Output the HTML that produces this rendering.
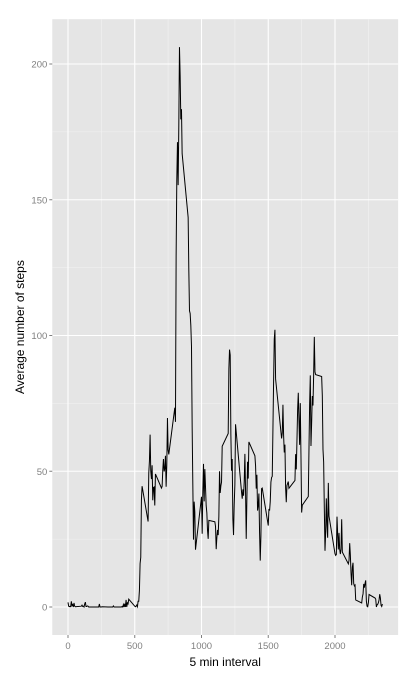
<!DOCTYPE html>
<html><head><meta charset="utf-8"><style>
body{margin:0;background:#fff;}
svg{display:block;font-family:"Liberation Sans",sans-serif;}
</style></head><body>
<svg id="chart" width="413" height="680"></svg>
<script>
const hourValues = [
[1.7,0.3,0.1,0.2,0.1,2.1,0.5,0.9,0,1.5,0.3,0.1],
[0.3,0.7,0.2,0.3,0,1.1,1.8,0.2,0.2,0.4,0.3,0],
[0,0,0,0,0,0,0,1.1,0,0,0,0.1],
[0,0,0,0,0,0,0,0,0.4,0,0,0],
[0,0.2,0,0.9,0,1.2,0,2.6,0,1.5,1.2,2.9],
[0.3,0.1,0.3,0.7,0.1,2.1,2.1,6.1,16,18.3,39.5,44.5],
[31.5,49.3,53.8,63.5,50,47.1,52.2,39.3,44,44.2,37.4,49],
[43.8,44.4,50.5,54.5,49.9,51,55.7,44.3,52.3,69.6,57.9,56.2],
[73.4,68.2,129.4,157.5,171.2,155.4,177.3,206.2,195.9,179.6,183.4,167],
[143.5,124,109.1,108.1,103.7,96,66.2,45.2,24.8,38.8,35,21.1],
[40.6,27,42.4,52.7,38.9,50.8,44.3,37.4,34.7,28.3,25.1,31.9],
[31.4,29.7,21.3,25.5,28.4,26.5,33.4,50,42,44.6,46,59.2],
[63.9,87.7,94.8,92.8,63.4,50.2,54.5,32.4,26.5,37.7,45.1,67.3],
[42.3,39.9,43.3,41,46.2,56.4,42.7,25.1,40,53.5,47.3,60.8],
[55.7,52,43.6,48.7,35.5,37.5,41.8,27.5,17.1,26.1,43.6,43.8],
[30,36.1,35.5,38.8,46,47.7,48.1,65.3,82.9,98.7,102.1,84],
[62.1,64.1,74.5,63.2,56.9,59.8,43.9,38.6,44.7,45.5,46.2,43.7],
[46.6,56.3,50.7,61.2,72.7,78.9,68.9,59.7,75.1,56.5,34.8,37.5],
[40.7,58,74.7,85.3,59.3,67.8,77.7,74.2,85.3,99.5,86.6,85.6],
[84.9,77.8,58,53.4,36.3,20.7,27.4,40,30.2,25.5,45.7,33.5],
[19.6,19,19.3,33.3,26.8,21.2,27.3,21.3,19.5,21.3,32.3,20.2],
[15.9,17.2,23.5,19.2,12.5,8,14.7,16.3,8.7,7.8,8.1,2.6],
[1.5,3.7,4.8,8.5,7.1,8.7,9.8,2.2,0.3,0.1,1.6,4.6],
[3.3,2.9,0,0.8,1,1.6,2.6,4.7,3.3,0.6,0.2,1.1]
];
const xTicks = [0,500,1000,1500,2000];
const yTicks = [0,50,100,150,200];

const NS="http://www.w3.org/2000/svg";
const svg=document.getElementById('chart');
function mk(t,a,p){const e=document.createElementNS(NS,t);for(const k in a)e.setAttribute(k,a[k]);(p||svg).appendChild(e);return e;}
const intervals=[],values=[];
hourValues.forEach((row,h)=>row.forEach((v,i)=>{intervals.push(h*100+i*5);values.push(v);}));
const xMin=0,xMax=Math.max(...intervals),yMax=Math.max(...values);
const xs=(v)=>68+(v-xMin)*(267/2000);
const ys=(v)=>607-v*(543/200);
const xr=(xMax-xMin)*0.05,yr=yMax*0.05;
const L=xs(xMin-xr),R=xs(xMax+xr),T=ys(yMax+yr),B=ys(-yr);
const panel=mk('rect',{x:L,y:T,width:R-L,height:B-T,fill:'#e5e5e5'});


const g=mk('g',{});


for(let i=0;i<xTicks.length;i++){
  const v=xTicks[i]+250; if(xs(v)<R) mk('line',{x1:xs(v),x2:xs(v),y1:T,y2:B,stroke:'#f2f2f2','stroke-width':0.6},g);
}
for(let i=0;i<yTicks.length;i++){
  const v=yTicks[i]+25; if(ys(v)>T) mk('line',{x1:L,x2:R,y1:ys(v),y2:ys(v),stroke:'#f2f2f2','stroke-width':0.6},g);
}
xTicks.forEach(v=>{
  mk('line',{x1:xs(v),x2:xs(v),y1:T,y2:B,stroke:'#fff','stroke-width':1.1},g);
  mk('line',{x1:xs(v),x2:xs(v),y1:B,y2:B+3,stroke:'#7f7f7f','stroke-width':1});
  const t=mk('text',{x:xs(v),y:B+14,'text-anchor':'middle','font-size':'9.5px',fill:'#7f7f7f'});
  t.textContent=v;
  
  
});
yTicks.forEach(v=>{
  mk('line',{x1:L,x2:R,y1:ys(v),y2:ys(v),stroke:'#fff','stroke-width':1.1},g);
  mk('line',{x1:L-3,x2:L,y1:ys(v),y2:ys(v),stroke:'#7f7f7f','stroke-width':1});
  const t=mk('text',{x:L-5,y:ys(v)+3.5,'text-anchor':'end','font-size':'9.5px',fill:'#7f7f7f'});
  t.textContent=v;
  
  
});
const d=intervals.map((x,i)=>(i?'L':'M')+xs(x).toFixed(2)+' '+ys(values[i]).toFixed(2)).join(' ');
const line=mk('path',{d:d,fill:'none',stroke:'#000','stroke-width':1});


const xt=mk('text',{x:(L+R)/2,y:666,'text-anchor':'middle','font-size':'12px',fill:'#000'});
xt.textContent='5 min interval';


const yt=mk('text',{x:0,y:0,'text-anchor':'middle','font-size':'12px',fill:'#000',transform:`translate(24,${(T+B)/2}) rotate(-90)`});
yt.textContent='Average number of steps';


</script>
</body></html>
